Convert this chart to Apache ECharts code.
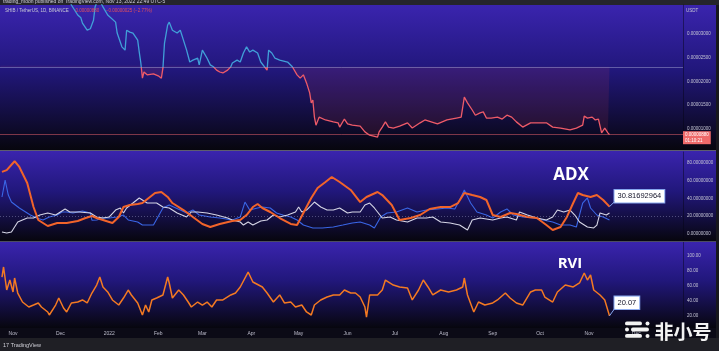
<!DOCTYPE html>
<html><head><meta charset="utf-8">
<script src="https://cdn.jsdelivr.net/npm/echarts@6/dist/echarts.min.js"></script>
<style>html,body{margin:0;padding:0;background:#141418;}#c{width:719px;height:351px;}</style>
</head><body><div id="c"></div><script>
// ---------- data ----------
const monthTicks = ['2021-11-01','2021-12-01','2022-01-01','2022-02-01','2022-03-01','2022-04-01','2022-05-01','2022-06-01','2022-07-01','2022-08-01','2022-09-01','2022-10-01','2022-11-01','2022-12-01'];
const monthNames = ['Jan','Feb','Mar','Apr','May','Jun','Jul','Aug','Sep','Oct','Nov','Dec'];

// price in millionths of USDT (SHIB / TetherUS, 1D)
const priceDates = [
'2021-10-24','2021-10-28','2021-11-01','2021-11-05','2021-11-10',
'2021-11-15','2021-11-20','2021-11-25','2021-11-30','2021-12-04',
'2021-12-06','2021-12-08','2021-12-12','2021-12-14','2021-12-15',
'2021-12-18','2021-12-20','2021-12-22','2021-12-23','2021-12-25',
'2021-12-26','2021-12-28','2021-12-31','2022-01-01','2022-01-05',
'2022-01-06','2022-01-09','2022-01-11','2022-01-12','2022-01-14',
'2022-01-16','2022-01-19','2022-01-20','2022-01-21','2022-01-22',
'2022-01-23','2022-01-25','2022-01-29','2022-02-01','2022-02-03',
'2022-02-04','2022-02-05','2022-02-07','2022-02-08','2022-02-10',
'2022-02-13','2022-02-15','2022-02-17','2022-02-19','2022-02-21',
'2022-02-23','2022-02-26','2022-02-27','2022-03-01','2022-03-04',
'2022-03-06','2022-03-08','2022-03-10','2022-03-12','2022-03-14',
'2022-03-17','2022-03-19','2022-03-20','2022-03-23','2022-03-25',
'2022-03-27','2022-03-29','2022-03-31','2022-04-02','2022-04-05',
'2022-04-07','2022-04-08','2022-04-11','2022-04-12','2022-04-14',
'2022-04-16','2022-04-19','2022-04-24','2022-04-27','2022-04-30',
'2022-05-02','2022-05-04','2022-05-06','2022-05-08','2022-05-09',
'2022-05-10','2022-05-11','2022-05-12','2022-05-14','2022-05-18',
'2022-05-23','2022-05-26','2022-05-27','2022-05-30','2022-06-01',
'2022-06-04','2022-06-09','2022-06-12','2022-06-15','2022-06-20',
'2022-06-21','2022-06-23','2022-06-25','2022-06-27','2022-06-30',
'2022-07-04','2022-07-09','2022-07-12','2022-07-17','2022-07-20',
'2022-07-24','2022-07-28','2022-08-03','2022-08-09','2022-08-12',
'2022-08-14','2022-08-16','2022-08-19','2022-08-21','2022-08-24',
'2022-08-26','2022-08-28','2022-08-31','2022-09-04','2022-09-07',
'2022-09-10','2022-09-13','2022-09-16','2022-09-20','2022-09-25',
'2022-10-01','2022-10-05','2022-10-09','2022-10-14','2022-10-20',
'2022-10-24','2022-10-28','2022-10-29','2022-10-31','2022-11-03',
'2022-11-05','2022-11-07','2022-11-09','2022-11-11','2022-11-13',
'2022-11-14'];
const priceMicro = [
48, 72, 62, 55, 56,
52, 43, 41, 42, 38,
38, 36.1, 34.0, 33.4, 32.3,
30.8, 31.1, 32.9, 35.7, 37.5,
37.0, 35.7, 34.0, 33.6, 32.5,
30.2, 27.3, 26.6, 30.8, 30.4,
30.2, 28.7, 26.2, 23.9, 20.7,
22.0, 21.4, 21.6, 21.2, 20.7,
22.8, 28.1, 31.9, 32.5, 30.8,
30.2, 30.8, 28.7, 26.6, 24.1,
24.5, 24.9, 23.5, 26.6, 24.9,
23.5, 23.1, 22.4, 22.0, 21.8,
22.4, 23.1, 23.9, 24.5, 24.1,
26.0, 27.3, 26.2, 26.6, 26.0,
24.1, 24.5, 22.4, 26.6, 26.0,
24.9, 24.5, 24.1, 23.1, 21.4,
20.7, 21.4, 19.7, 17.6, 15.5,
16.1, 12.5, 10.8, 12.5, 11.9,
11.5, 11.3, 10.4, 12.1, 11.1,
10.8, 10.6, 9.4, 8.7, 8.3,
9.4, 10.4, 11.5, 10.4, 10.2,
10.6, 11.3, 10.2, 11.3, 11.9,
11.5, 11.1, 11.9, 12.3, 12.5,
16.7, 15.5, 14.0, 12.9, 13.4,
13.6, 12.3, 12.3, 12.5, 12.1,
12.9, 12.5, 11.5, 10.4, 11.3,
11.3, 11.3, 10.4, 10.2, 9.8,
10.2, 10.8, 12.7, 12.3, 12.5,
11.9, 12.1, 9.2, 10.2, 9.2,
8.8];
const priceBaseline = 23.1;
const priceTicks = [10, 15, 20, 25, 30];

// ADX (orange)
const adxDates = [
'2021-10-25','2021-10-28','2021-11-02','2021-11-05','2021-11-10',
'2021-11-14','2021-11-17','2021-11-23','2021-11-29','2021-12-05',
'2021-12-12','2021-12-17','2021-12-21','2021-12-24','2021-12-28',
'2022-01-03','2022-01-07','2022-01-10','2022-01-14','2022-01-19',
'2022-01-22','2022-01-26','2022-01-30','2022-02-03','2022-02-07',
'2022-02-10','2022-02-17','2022-02-23','2022-03-01','2022-03-06',
'2022-03-12','2022-03-20','2022-03-25','2022-03-29','2022-04-02',
'2022-04-05','2022-04-08','2022-04-13','2022-04-19','2022-04-26',
'2022-04-30','2022-05-04','2022-05-09','2022-05-13','2022-05-18',
'2022-05-22','2022-05-27','2022-06-03','2022-06-09','2022-06-13',
'2022-06-20','2022-06-23','2022-06-29','2022-07-04','2022-07-11',
'2022-07-17','2022-07-23','2022-07-30','2022-08-05','2022-08-10',
'2022-08-14','2022-08-19','2022-08-24','2022-08-28','2022-09-01',
'2022-09-06','2022-09-12','2022-09-16','2022-09-23','2022-09-29',
'2022-10-05','2022-10-09','2022-10-14','2022-10-18','2022-10-22',
'2022-10-25','2022-10-28','2022-11-02','2022-11-06','2022-11-10',
'2022-11-14'];
const adxValues = [
70, 72, 82, 75.5, 57.5,
30.4, 15.8, 9, 12.4, 12.4,
14.6, 18, 20.3, 18, 15.8,
12.4, 19.2, 30.4, 32.7, 33.8,
34.9, 40.6, 46.2, 47.3, 41.7,
34.9, 27, 19.2, 11.3, 7.9,
11.3, 14.6, 15.8, 21.4, 30.4,
33.8, 29.3, 24.8, 18, 11.3,
10.1, 23.7, 40.6, 51.8, 58.6,
64.2, 58.6, 49.6, 36, 41.7,
47.3, 43.9, 32.7, 15.8, 18,
21.4, 28.2, 30.4, 30.4, 34.9,
46.2, 43.9, 41.7, 38.3, 21.4,
19.2, 23.7, 22.5, 19.2, 18,
10.1, 4.5, 7.9, 19.2, 34.9,
46.2, 43.9, 41.7, 43.9, 38.3,
30.81692964];

// +DI (blue)
const diPlusDates = [
'2021-10-25','2021-10-27','2021-10-29','2021-10-31','2021-11-05',
'2021-11-12','2021-11-16','2021-11-20','2021-11-24','2021-11-29',
'2021-12-02','2021-12-05','2021-12-09','2021-12-15','2021-12-20',
'2021-12-21','2021-12-24','2021-12-28','2022-01-01','2022-01-06',
'2022-01-10','2022-01-13','2022-01-19','2022-01-22','2022-01-29',
'2022-02-04','2022-02-08','2022-02-15','2022-02-19','2022-02-23',
'2022-02-27','2022-03-06','2022-03-12','2022-03-20','2022-03-25',
'2022-03-28','2022-03-31','2022-04-05','2022-04-08','2022-04-13',
'2022-04-17','2022-04-21','2022-04-26','2022-04-30','2022-05-04',
'2022-05-10','2022-05-16','2022-05-23','2022-05-29','2022-06-04',
'2022-06-09','2022-06-15','2022-06-18','2022-06-22','2022-06-26',
'2022-07-02','2022-07-09','2022-07-15','2022-07-21','2022-07-28',
'2022-08-03','2022-08-08','2022-08-11','2022-08-14','2022-08-18',
'2022-08-22','2022-08-28','2022-09-01','2022-09-06','2022-09-10',
'2022-09-14','2022-09-20','2022-09-27','2022-10-03','2022-10-09',
'2022-10-14','2022-10-20','2022-10-24','2022-10-28','2022-10-31',
'2022-11-02','2022-11-06','2022-11-10','2022-11-14'];
const diPlusValues = [
41.7, 60.8, 43.9, 36, 29.3,
21.4, 18, 15.8, 19.2, 21.4,
24.8, 24.8, 23.7, 25.9, 23.7,
15.5, 15.8, 18, 18, 19.2,
21.4, 15.8, 13.5, 10.1, 10.1,
29.3, 32.7, 27, 23.7, 27,
21.4, 19.2, 18, 15.8, 19.2,
36, 27, 29.3, 30.4, 29.3,
23.7, 21.4, 19.2, 15.8, 10.1,
6.8, 6.8, 7.9, 10.1, 12.4,
13.5, 10.1, 6.8, 19.2, 23.7,
24.8, 29.3, 24.8, 27, 28.2,
29.3, 28.2, 38.3, 49.6, 34.9,
24.8, 21.4, 18, 24.8, 28.2,
21.4, 19.2, 18, 15.8, 13.5,
10.1, 10.1, 7.9, 34.9, 40.6,
29.3, 21.4, 19.2, 15.8];

// -DI (white)
const diMinusDates = [
'2021-10-25','2021-10-28','2021-10-31','2021-11-04','2021-11-07',
'2021-11-10','2021-11-14','2021-11-18','2021-11-23','2021-11-24',
'2021-11-28','2021-12-01','2021-12-04','2021-12-07','2021-12-13',
'2021-12-20','2021-12-24','2021-12-28','2022-01-01','2022-01-05',
'2022-01-08','2022-01-10','2022-01-12','2022-01-16','2022-01-20',
'2022-01-22','2022-01-25','2022-01-31','2022-02-04','2022-02-08',
'2022-02-13','2022-02-19','2022-02-22','2022-02-26','2022-03-04',
'2022-03-10','2022-03-17','2022-03-20','2022-03-25','2022-03-27',
'2022-03-30','2022-04-02','2022-04-07','2022-04-11','2022-04-15',
'2022-04-19','2022-04-24','2022-04-29','2022-05-01','2022-05-03',
'2022-05-06','2022-05-11','2022-05-15','2022-05-19','2022-05-23',
'2022-05-27','2022-06-01','2022-06-04','2022-06-09','2022-06-12',
'2022-06-15','2022-06-18','2022-06-20','2022-06-23','2022-06-28',
'2022-07-02','2022-07-09','2022-07-15','2022-07-21','2022-07-25',
'2022-07-30','2022-08-05','2022-08-11','2022-08-16','2022-08-19',
'2022-08-24','2022-09-01','2022-09-06','2022-09-10','2022-09-16',
'2022-09-18','2022-09-23','2022-09-29','2022-10-05','2022-10-09',
'2022-10-12','2022-10-16','2022-10-20','2022-10-23','2022-10-26',
'2022-10-31','2022-11-04','2022-11-06','2022-11-08','2022-11-12',
'2022-11-14'];
const diMinusValues = [
2.3, 1.1, 2.3, 13.5, 15.8,
18, 18, 21.4, 23.7, 24.8,
21.4, 24.8, 28.2, 24.8, 24.8,
23.7, 19.2, 18, 19.2, 27,
29.3, 23.7, 29.3, 34.9, 40.6,
38.3, 34.9, 34.9, 30.4, 29.3,
23.7, 19.2, 24.8, 24.8, 23.7,
21.4, 18, 15.8, 13.5, 10.1,
13.5, 10.1, 14.6, 15.8, 21.4,
19.2, 21.4, 24.8, 30.4, 24.8,
27, 36, 30.4, 27, 27,
29.3, 23.7, 24.8, 24.8, 32.7,
34.9, 29.3, 24.8, 18, 19.2,
15.8, 13.5, 18, 18, 19.2,
13.5, 12.4, 10.1, 4.5, 15.8,
18, 15.8, 18, 19.2, 15.8,
24.8, 21.4, 18, 15.8, 19.2,
27, 24.8, 27, 21.4, 13.5,
7.9, 6.8, 10.1, 23.7, 21.4,
23.7];
const adxTicks = [0, 20, 40, 60, 80];

// RVI (orange)
const rviDates = [
'2021-10-25','2021-10-26','2021-10-28','2021-10-30','2021-11-01',
'2021-11-02','2021-11-04','2021-11-07','2021-11-11','2021-11-14',
'2021-11-17','2021-11-19','2021-11-23','2021-11-24','2021-11-28',
'2021-11-30','2021-12-03','2021-12-05','2021-12-08','2021-12-12',
'2021-12-15','2021-12-18','2021-12-21','2021-12-24','2021-12-26',
'2021-12-28','2021-12-31','2022-01-03','2022-01-07','2022-01-10',
'2022-01-13','2022-01-15','2022-01-19','2022-01-22','2022-01-24',
'2022-01-26','2022-01-28','2022-01-31','2022-02-04','2022-02-07',
'2022-02-08','2022-02-10','2022-02-14','2022-02-17','2022-02-20',
'2022-02-22','2022-02-26','2022-03-01','2022-03-04','2022-03-07',
'2022-03-10','2022-03-14','2022-03-19','2022-03-22','2022-03-25',
'2022-03-30','2022-04-02','2022-04-08','2022-04-11','2022-04-15',
'2022-04-19','2022-04-22','2022-04-26','2022-04-29','2022-05-03',
'2022-05-06','2022-05-09','2022-05-11','2022-05-15','2022-05-19',
'2022-05-23','2022-05-27','2022-05-30','2022-06-03','2022-06-06',
'2022-06-09','2022-06-12','2022-06-13','2022-06-15','2022-06-20',
'2022-06-23','2022-06-25','2022-06-30','2022-07-04','2022-07-09',
'2022-07-12','2022-07-16','2022-07-19','2022-07-22','2022-07-25',
'2022-07-30','2022-08-04','2022-08-09','2022-08-13','2022-08-14',
'2022-08-16','2022-08-20','2022-08-23','2022-08-27','2022-09-01',
'2022-09-04','2022-09-09','2022-09-12','2022-09-16','2022-09-20',
'2022-09-25','2022-09-28','2022-10-02','2022-10-04','2022-10-09',
'2022-10-12','2022-10-17','2022-10-22','2022-10-26','2022-10-29',
'2022-10-31','2022-11-02','2022-11-04','2022-11-08','2022-11-11',
'2022-11-14'];
const rviValues = [
71.5, 84.8, 54.3, 67.5, 51.7,
70.2, 50.3, 38.4, 31.8, 34.4,
37.1, 31.8, 25.2, 21.2, 34.4,
43.7, 30.5, 25.2, 37.1, 38.4,
41.1, 37.1, 50.3, 60.9, 71.5,
58.3, 51.7, 41.1, 34.4, 43.7,
54.3, 47.7, 37.1, 21.2, 34.4,
25.2, 41.1, 43.7, 47.7, 71.5,
63.6, 43.7, 54.3, 47.7, 38.4,
31.8, 38.4, 34.4, 38.4, 31.8,
41.1, 41.1, 47.7, 50.3, 58.3,
78.1, 64.9, 58.3, 50.3, 38.4,
47.7, 37.1, 38.4, 31.8, 34.4,
25.2, 21.2, 34.4, 41.1, 45,
47.7, 47.7, 54.3, 50.3, 50.3,
45, 31.8, 18.5, 47.7, 47.7,
54.3, 67.5, 60.9, 58.3, 57,
41.1, 54.3, 67.5, 58.3, 47.7,
54.3, 51.7, 54.3, 58.3, 70.2,
47.7, 25.2, 38.4, 34.4, 37.1,
41.1, 50.3, 43.7, 37.1, 34.4,
51.7, 54.3, 54.3, 45, 38.4,
51.7, 60.9, 58.3, 63.6, 76.8,
67.5, 74.2, 54.3, 47.7, 41.1,
20.07];
const rviTicks = [20, 40, 60, 80, 100];

// ---------- chart ----------
const DAY = 86400000;
const ts = s => Date.parse(s + 'T00:00:00Z');
const pairs = (d, v) => d.map((s, i) => [ts(s), v[i]]);
const xMin = Date.UTC(2021, 9, 23, 18), xMax = Date.UTC(2022, 11, 30, 14);
const FONT = 'Liberation Sans';
const lastPrice = priceMicro[priceMicro.length - 1];
const lastAdx = adxValues[adxValues.length - 1];
const lastRvi = rviValues[rviValues.length - 1];
const lastAdxTs = ts(adxDates[adxDates.length - 1]);
const lastRviTs = ts(rviDates[rviDates.length - 1]);

// price pane extent; a second, hidden grid covers only the part below the baseline
const P_TOP = 5, P_H = 145, P_MIN = 5.579, P_MAX = 36.105;
const baseTop = P_TOP + (P_MAX - priceBaseline) / (P_MAX - P_MIN) * P_H;

function grad(){return new echarts.graphic.LinearGradient(0,0,0,1,[
  {offset:0,color:'#3a24ae'},{offset:0.45,color:'#21177b'},{offset:1,color:'#07060e'}]);}

const chart = echarts.init(document.getElementById('c'), null, {renderer:'canvas'});
const xAxisBase = i => ({
  type:'value', gridIndex:i, min:xMin, max:xMax,
  axisLine:{show:false}, axisTick:{show:false}, splitLine:{show:false},
  axisLabel:{show:i===2, customValues: monthTicks.map(ts), color:'#bdbdcc', fontSize:5, fontFamily:FONT, margin:3,
    formatter: v => { const d = new Date(v); return d.getUTCMonth()===0 ? String(d.getUTCFullYear()) : monthNames[d.getUTCMonth()]; }}
});
const yAxisBase = (i, min, max, ticks, fmt) => ({
  type:'value', gridIndex:i, position:'right', min, max,
  splitLine:{show:false}, axisTick:{show:false},
  axisLine:{show:true, lineStyle:{color:'rgba(5,4,20,0.45)', width:1}},
  axisLabel:{customValues:ticks, formatter:fmt, color:'#c4c4d4', fontSize:4.5, fontFamily:FONT, margin:4}
});

const y0 = yAxisBase(0, P_MIN, P_MAX, priceTicks, v => (v/1e6).toFixed(8));
y0.name = 'USDT'; y0.nameLocation = 'end'; y0.nameGap = -6;
y0.nameTextStyle = {color:'#c4c4d4', fontSize:4.5, fontFamily:FONT, align:'left', verticalAlign:'middle', padding:[0,0,0,3]};

const calloutLabel = (offY, fmt) => ({show:true, formatter: fmt, distance:5, offset:[0,offY],
  backgroundColor:'#ffffff', borderColor:'#86a6ee', borderWidth:1, padding:[2.5,3,2,3],
  color:'#15152a', fontSize:7.5, fontFamily:FONT});

const option = {
  animation:false,
  backgroundColor:'#141418',
  grid:[
    {left:0, right:36, top:P_TOP, height:P_H},
    {left:0, right:36, top:152, height:88},
    {left:0, right:36, top:242, height:86},
    {left:0, right:36, top:baseTop, height:P_TOP + P_H - baseTop}
  ],
  xAxis:[xAxisBase(0), xAxisBase(1), xAxisBase(2), xAxisBase(3)],
  yAxis:[
    y0,
    yAxisBase(1, -6.76, 92.39, adxTicks, v => v.toFixed(8)),
    yAxisBase(2, 3.97, 117.9, rviTicks, v => v.toFixed(2)),
    {type:'value', gridIndex:3, min:P_MIN, max:priceBaseline, show:false}
  ],
  visualMap:{show:false, type:'piecewise', seriesIndex:0, dimension:1,
    pieces:[{gt:0, lte:priceBaseline, color:'#ee5a68'},{gt:priceBaseline, lte:1000, color:'#409fd8'}],
    outOfRange:{color:'#409fd8'}},
  series:[
    {name:'SHIB/USDT', type:'line', xAxisIndex:0, yAxisIndex:0, data:pairs(priceDates, priceMicro),
     showSymbol:false, lineStyle:{width:1.3}, z:4,
     markLine:{silent:true, symbol:['none','none'], animation:false,
       data:[
         {yAxis:priceBaseline, lineStyle:{color:'rgba(160,160,210,0.5)', width:1, type:'solid'}, label:{show:false}},
         {yAxis:lastPrice, lineStyle:{color:'rgba(238,100,110,0.5)', width:1, type:'solid'},
          label:{show:true, position:'end', distance:0, offset:[0,3],
            formatter: (lastPrice/1e6).toFixed(8) + '\n01:10:21',
            backgroundColor:'#ef6a6a', color:'#fff', fontSize:4.5, lineHeight:5.5, fontFamily:FONT, padding:[1,2,1,2]}}
       ]}},
    // red baseline fill between the price and the baseline (clipped to the lower grid)
    {name:'belowFill', type:'line', xAxisIndex:3, yAxisIndex:3, data:pairs(priceDates, priceMicro),
     showSymbol:false, silent:true, lineStyle:{opacity:0}, z:1,
     areaStyle:{origin:'end', color:'rgba(232,70,90,0.16)'}},
    {name:'+DI', type:'line', xAxisIndex:1, yAxisIndex:1, data:pairs(diPlusDates, diPlusValues),
     showSymbol:false, lineStyle:{width:1.1, color:'#3a66e6'}, itemStyle:{color:'#3a66e6'}, z:2},
    {name:'-DI', type:'line', xAxisIndex:1, yAxisIndex:1, data:pairs(diMinusDates, diMinusValues),
     showSymbol:false, lineStyle:{width:1.1, color:'#d6d6e6'}, itemStyle:{color:'#d6d6e6'}, z:2},
    {name:'ADX', type:'line', xAxisIndex:1, yAxisIndex:1, data:pairs(adxDates, adxValues),
     showSymbol:false, lineStyle:{width:2, color:'#f2642a'}, itemStyle:{color:'#f2642a'}, z:4,
     endLabel: calloutLabel(-10.5, p => String(p.value[1])),
     markLine:{silent:true, symbol:['none','none'], animation:false,
       data:[{yAxis:20, lineStyle:{color:'rgba(170,170,215,0.4)', width:1, type:[1,2]}, label:{show:false}}]}},
    {name:'RVI', type:'line', xAxisIndex:2, yAxisIndex:2, data:pairs(rviDates, rviValues),
     showSymbol:false, lineStyle:{width:1.5, color:'#f47a22'}, itemStyle:{color:'#f47a22'}, z:3,
     endLabel: calloutLabel(-13, p => p.value[1].toFixed(2))},
    // callout pointers, anchored at the last data point
    {name:'adxPointer', type:'line', xAxisIndex:1, yAxisIndex:1, silent:true, showSymbol:false, z:5,
     data:[[lastAdxTs, lastAdx],[lastAdxTs + 3.2*DAY, lastAdx + 5.6]], lineStyle:{width:1, color:'#86a6ee'}},
    {name:'rviPointer', type:'line', xAxisIndex:2, yAxisIndex:2, silent:true, showSymbol:false, z:5,
     data:[[lastRviTs, lastRvi],[lastRviTs + 3.2*DAY, lastRvi + 9.3]], lineStyle:{width:1, color:'#86a6ee'}}
  ],
  graphic:{elements:[
    {type:'rect', z:-10, silent:true, shape:{x:0,y:0,width:719,height:5}, style:{fill:'#25252b'}},
    {type:'rect', z:-10, silent:true, shape:{x:0,y:5,width:716,height:145}, style:{fill:grad()}},
    {type:'rect', z:-10, silent:true, shape:{x:0,y:151,width:716,height:90}, style:{fill:grad()}},
    {type:'rect', z:-10, silent:true, shape:{x:0,y:242,width:716,height:86}, style:{fill:grad()}},
    {type:'rect', z:-10, silent:true, shape:{x:0,y:328,width:716,height:10}, style:{fill:'#0b0a16'}},
    {type:'rect', z:-10, silent:true, shape:{x:0,y:338,width:719,height:13}, style:{fill:'#1f1f25'}},
    {type:'rect', z:-10, silent:true, shape:{x:716,y:5,width:3,height:333}, style:{fill:'#17171d'}},
    {type:'line', z:5, silent:true, shape:{x1:0,y1:150.5,x2:716,y2:150.5}, style:{stroke:'#5d5d6e', lineWidth:1}},
    {type:'line', z:5, silent:true, shape:{x1:0,y1:241.5,x2:716,y2:241.5}, style:{stroke:'#4c4c60', lineWidth:1}},
    {type:'text', z:20, silent:true, x:3, y:1.5, style:{text:'trading_moon published on TradingView.com, Nov 13, 2022 22:49 UTC-5', font:'5px "Liberation Sans"', fill:'#cfcfd8', verticalAlign:'middle'}},
    {type:'text', z:20, silent:true, x:5, y:11, style:{
      text:'{a|SHIB / TetherUS, 1D, BINANCE}  {b|0.00000880}  {b|−0.00000025 (−2.77%)}',
      verticalAlign:'middle',
      rich:{a:{fill:'#c8c8d6', fontSize:4.5, fontFamily:FONT}, b:{fill:'#e2505c', fontSize:4.5, fontFamily:FONT}}}},
    {type:'text', z:20, silent:true, x:571, y:175, style:{text:'ADX', font:'bold 17px "Open Sans"', fill:'#ffffff', align:'center', verticalAlign:'middle'}},
    {type:'text', z:20, silent:true, x:570, y:264, style:{text:'RVI', font:'bold 15px "Open Sans"', fill:'#ffffff', align:'center', verticalAlign:'middle'}},
    {type:'text', z:20, silent:true, x:3, y:345, style:{text:'17 TradingView', font:'5.5px "Liberation Sans"', fill:'#d0d0d8', verticalAlign:'middle'}},
    // watermark logo + text
    {type:'rect', z:30, silent:true, shape:{x:625,y:321.5,width:17,height:3.8,r:1.9}, style:{fill:'#f2f2f2'}},
    {type:'circle', z:30, silent:true, shape:{cx:647.5,cy:323.4,r:2}, style:{fill:'#f2f2f2'}},
    {type:'circle', z:30, silent:true, shape:{cx:627,cy:329.5,r:2}, style:{fill:'#f2f2f2'}},
    {type:'rect', z:30, silent:true, shape:{x:631,y:327.6,width:18,height:3.8,r:1.9}, style:{fill:'#f2f2f2'}},
    {type:'rect', z:30, silent:true, shape:{x:625,y:334,width:17,height:3.8,r:1.9}, style:{fill:'#f2f2f2'}},
    {type:'circle', z:30, silent:true, shape:{cx:647.5,cy:335.9,r:2}, style:{fill:'#f2f2f2'}},
    {type:'text', z:30, silent:true, x:683, y:332, style:{text:'非小号', font:'bold 19px "Noto Sans CJK SC"', fill:'#f2f2f2', align:'center', verticalAlign:'middle'}}
  ]}
};
chart.setOption(option);
</script></body></html>
